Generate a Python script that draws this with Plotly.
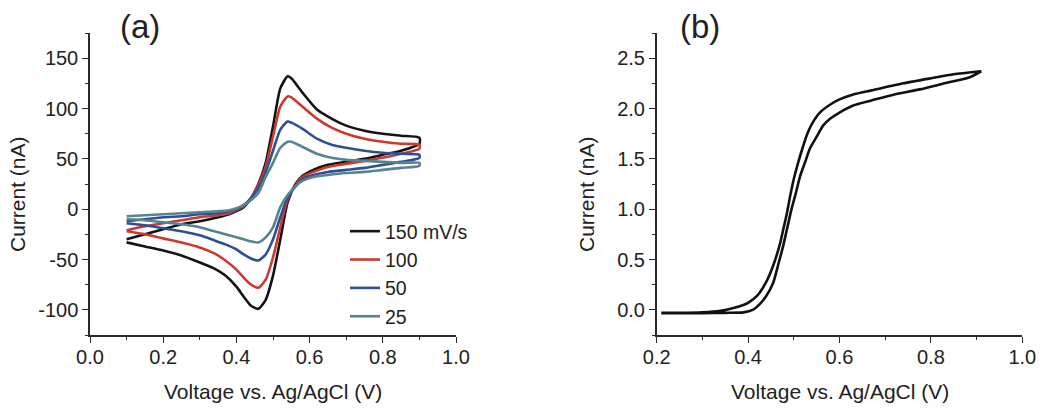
import plotly.graph_objects as go

# ---------------- Panel (a): CVs at different scan rates ----------------
scan_labels = ["150 mV/s", "100", "50", "25"]
line_colors = ["#141414", "#cc3a2f", "#2e4f96", "#55848f"]

v_forward = [0.10, 0.15, 0.20, 0.25, 0.30, 0.35, 0.38, 0.40, 0.42, 0.44, 0.46, 0.48,
             0.50, 0.52, 0.54, 0.55, 0.58, 0.62, 0.66, 0.70, 0.75, 0.80, 0.85, 0.90]
v_reverse = [0.90, 0.85, 0.80, 0.75, 0.70, 0.65, 0.61, 0.58, 0.56, 0.54, 0.52, 0.50,
             0.48, 0.46, 0.44, 0.42, 0.40, 0.37, 0.34, 0.30, 0.25, 0.20, 0.15, 0.10]

i150_forward = [-30, -25, -20, -15, -12, -8, -5, -2, 2, 11, 25, 46,
                82, 120, 132, 130, 116, 99, 90, 83, 78, 75, 73, 71]
i150_reverse = [65, 58, 54, 50, 47, 44, 39, 33, 24, 7, -30, -66,
                -90, -99, -96, -87, -77, -66, -59, -53, -46, -41, -37, -33]

i100_forward = [-21, -17, -14, -11, -8, -6, -4, -1, 3, 11, 24, 42,
                72, 102, 112, 111, 102, 90, 81, 75, 70, 67, 65, 64]
i100_reverse = [60, 55, 51, 48, 45, 42, 37, 32, 23, 10, -18, -48,
                -70, -78, -75, -68, -60, -51, -44, -38, -33, -29, -25, -22]

i50_forward = [-12, -10, -8, -7, -5, -4, -2, 0, 4, 11, 21, 37,
               58, 79, 87, 86, 80, 70, 64, 61, 58, 56, 55, 54]
i50_reverse = [51, 47, 44, 41, 39, 37, 34, 30, 22, 12, -8, -30,
               -45, -51, -49, -45, -40, -35, -31, -26, -22, -19, -16, -14]

i25_forward = [-7, -6, -5, -4, -3, -2, -1, 1, 4, 9, 16, 32,
               46, 61, 67, 67, 62, 55, 51, 49, 48, 47, 46, 46]
i25_reverse = [43, 41, 39, 37, 36, 34, 32, 28, 22, 14, 2, -18,
               -28, -33, -32, -30, -28, -25, -22, -18, -15, -13, -11, -10]

forward_sets = [i150_forward, i100_forward, i50_forward, i25_forward]
reverse_sets = [i150_reverse, i100_reverse, i50_reverse, i25_reverse]

a_ytick_vals = [-100, -50, 0, 50, 100, 150]
a_ytick_text = ["-100", "-50", "0", "50", "100", "150"]

# ---------------- Panel (b): single voltammogram ----------------
b_v_up = [0.21, 0.25, 0.30, 0.34, 0.37, 0.40, 0.42, 0.44, 0.455, 0.47, 0.477, 0.485,
          0.492, 0.50, 0.51, 0.52, 0.528, 0.54, 0.557, 0.58, 0.60, 0.63, 0.67, 0.74,
          0.80, 0.85, 0.91]
b_i_up = [-0.03, -0.03, -0.025, -0.01, 0.02, 0.07, 0.14, 0.28, 0.44, 0.66, 0.80, 0.96,
          1.13, 1.30, 1.47, 1.62, 1.73, 1.85, 1.96, 2.04, 2.09, 2.14, 2.18, 2.25,
          2.30, 2.34, 2.37]
b_v_down = [0.91, 0.885, 0.83, 0.776, 0.72, 0.67, 0.63, 0.60, 0.58, 0.564, 0.55, 0.535,
            0.525, 0.514, 0.505, 0.495, 0.485, 0.477, 0.466, 0.455, 0.44, 0.426, 0.41,
            0.39, 0.35, 0.30, 0.25, 0.21]
b_i_down = [2.37, 2.31, 2.25, 2.19, 2.14, 2.08, 2.03, 1.96, 1.90, 1.83, 1.72, 1.60,
            1.47, 1.33, 1.17, 1.00, 0.80, 0.64, 0.45, 0.27, 0.14, 0.06, 0.0,
            -0.025, -0.03, -0.033, -0.033, -0.033]

FONT = "Liberation Sans, Arial, sans-serif"
TXT = "#222222"
AX = "#2a2a2a"
W, H = 1050, 412

fig = go.Figure()
for label, color, fwd, rev in zip(scan_labels, line_colors, forward_sets, reverse_sets):
    fig.add_trace(go.Scatter(
        x=v_forward + v_reverse, y=fwd + rev, mode="lines", name=label,
        line=dict(color=color, width=2.6, shape="spline", smoothing=0.6),
        xaxis="x", yaxis="y"))

fig.add_trace(go.Scatter(
    x=b_v_up + b_v_down, y=b_i_up + b_i_down, mode="lines", showlegend=False,
    line=dict(color="#111111", width=2.6, shape="spline", smoothing=0.6),
    xaxis="x2", yaxis="y2"))

ydom = [1 - 335 / H, 1 - 33 / H]
common = dict(showline=True, linecolor=AX, linewidth=1.5, ticks="outside",
              ticklen=6, tickwidth=1.3, tickcolor=AX, showgrid=False, zeroline=False,
              mirror=False, automargin=False,
              tickfont=dict(family=FONT, size=20, color=TXT))

fig.update_layout(
    template="none",
    width=W, height=H,
    margin=dict(l=0, r=0, t=0, b=0, pad=0, autoexpand=False),
    paper_bgcolor="white", plot_bgcolor="white",
    font=dict(family=FONT, color=TXT),
    xaxis=dict(domain=[90 / W, 456 / W], range=[0, 1.0], dtick=0.2, tick0=0,
               tickformat=".1f", anchor="y", ticklabelstandoff=-3,
               minor=dict(ticks="outside", ticklen=3, dtick=0.1, tick0=0,
                          tickcolor=AX, tickwidth=1.2), **common),
    yaxis=dict(domain=ydom, range=[-125, 175], tickmode="array",
               tickvals=a_ytick_vals, ticktext=a_ytick_text, anchor="x",
               minor=dict(ticks="outside", ticklen=3, dtick=25, tick0=0,
                          tickcolor=AX, tickwidth=1.2), **common),
    xaxis2=dict(domain=[656.7 / W, 1022.3 / W], range=[0.2, 1.0], dtick=0.2, tick0=0,
                tickformat=".1f", anchor="y2", ticklabelstandoff=-3,
                minor=dict(ticks="outside", ticklen=3, dtick=0.1, tick0=0,
                           tickcolor=AX, tickwidth=1.2), **common),
    yaxis2=dict(domain=ydom, range=[-0.25, 2.75], dtick=0.5, tick0=0,
                tickformat=".1f", anchor="x2",
                minor=dict(ticks="outside", ticklen=3, dtick=0.25, tick0=0,
                           tickcolor=AX, tickwidth=1.2), **common),
    legend=dict(x=345 / W, y=1 - 212 / H, xanchor="left", yanchor="top",
                bgcolor="rgba(0,0,0,0)", font=dict(family=FONT, size=19.5, color=TXT),
                itemwidth=30, tracegroupgap=0),
)

ann = [
    dict(text="(a)", x=140 / W, y=1 - 27 / H, font=dict(size=33)),
    dict(text="(b)", x=700 / W, y=1 - 27 / H, font=dict(size=33)),
    dict(text="Voltage vs. Ag/AgCl (V)", x=273 / W, y=1 - 391 / H, font=dict(size=21)),
    dict(text="Voltage vs. Ag/AgCl (V)", x=840 / W, y=1 - 391 / H, font=dict(size=21)),
    dict(text="Current (nA)", x=17 / W, y=1 - 194 / H, font=dict(size=21), textangle=-90),
    dict(text="Current (nA)", x=586 / W, y=1 - 194 / H, font=dict(size=21), textangle=-90),
]
for a in ann:
    a.update(xref="paper", yref="paper", showarrow=False, xanchor="center",
             yanchor="middle")
    a["font"].update(family=FONT, color=TXT)
    fig.add_annotation(**a)

fig.write_html("out.html",
               config={"displayModeBar": False},
               post_script="document.body.style.margin='0';document.body.style.padding='0';")
